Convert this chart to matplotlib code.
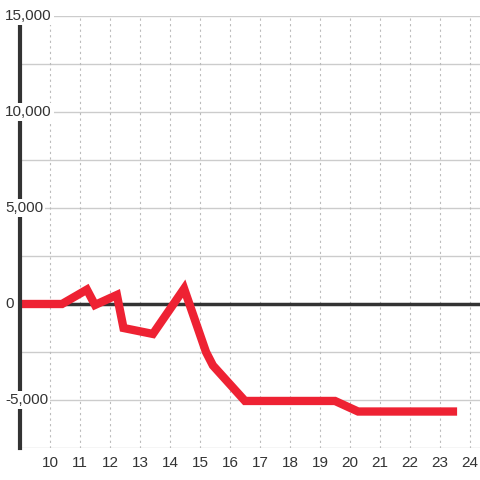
import matplotlib.pyplot as plt
import matplotlib.transforms as mtransforms

# series
hours = [9.0, 10.4, 11.23, 11.5, 12.23, 12.45, 13.43, 14.47, 15.2, 15.43, 16.5, 19.5, 20.27, 23.57]
values = [0, 0, 750, -50, 470, -1250, -1560, 800, -2500, -3200, -5050, -5050, -5600, -5600]

x_ticks = list(range(10, 25))
y_ticks = [-5000, 0, 5000, 10000, 15000]
y_grid = [-7500, -2500, 2500, 7500, 12500]

plt.rcParams['font.family'] = ['Liberation Sans', 'DejaVu Sans']

fig = plt.figure(figsize=(4.8, 4.8), dpi=100)
ax = fig.add_axes([20 / 480, 32 / 480, 460 / 480, 432 / 480])
ax.set_xlim(9, 9 + 460 / 30)
ax.set_ylim(-7500, 15000)

for s in ['top', 'right', 'bottom']:
    ax.spines[s].set_visible(False)
ax.spines['left'].set_color('#333333')
ax.spines['left'].set_linewidth(3)
ax.spines['left'].set_zorder(4)

# grid
for y in y_ticks + y_grid:
    if y == 0:
        continue
    ax.axhline(y, color='#cccccc', lw=1, zorder=1)
for x in x_ticks:
    ax.axvline(x, color='#bbbbbb', lw=0.8, ls=(0, (2, 3)), zorder=1)
ax.axhline(0, color='#333333', lw=2.5, zorder=2)

ax.plot(hours, values, color='#ee2233', lw=6, solid_capstyle='butt',
        solid_joinstyle='miter', zorder=3, clip_on=False)

ax.set_xticks(x_ticks)
ax.set_xticklabels([str(x) for x in x_ticks])
ax.tick_params(axis='x', length=0, pad=6, labelsize=11, labelcolor='#333333')
ax.set_yticks([])

trans = mtransforms.blended_transform_factory(ax.transAxes, ax.transData)
for y in y_ticks:
    ax.text(-15 / 460, y, f'{y:,}', transform=trans, ha='left', va='center',
            fontsize=11, color='#333333', zorder=6,
            bbox=dict(boxstyle='square,pad=0.15', fc='white', ec='none'))

fig.savefig('out.png', dpi=100)
